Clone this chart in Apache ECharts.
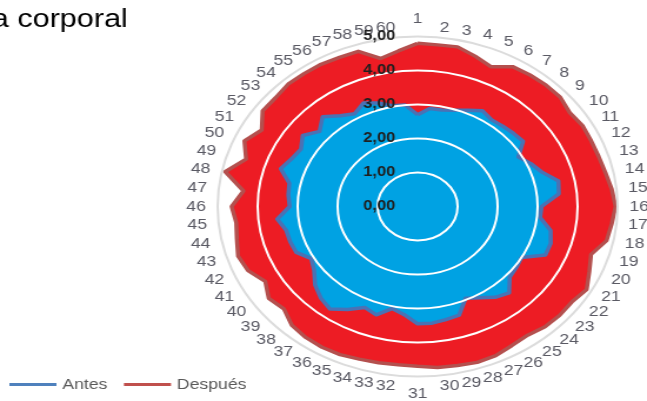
<!DOCTYPE html>
<html><head><meta charset="utf-8">
<script src="https://cdn.jsdelivr.net/npm/echarts@6/dist/echarts.min.js"></script>
<style>
html,body{margin:0;padding:0;overflow:hidden;background:#fff;width:647px;height:401px}
#chart{width:550px;height:401px;transform:scaleX(1.17636);transform-origin:0 0}
</style></head><body><div id="chart"></div>
<script>
const titleText = 'a corporal';
const categories = ['1','2','3','4','5','6','7','8','9','10','11','12','13','14','15','16','17','18','19','20',
  '21','22','23','24','25','26','27','28','29','30','31','32','33','34','35','36','37','38','39','40',
  '41','42','43','44','45','46','47','48','49','50','51','52','53','54','55','56','57','58','59','60'];
const antes = [2.70,2.90,2.90,2.98,3.10,3.25,3.15,3.18,3.22,3.26,2.91,3.10,3.27,3.60,3.55,3.10,3.08,3.40,3.50,3.50,
  3.00,3.05,3.10,3.42,3.30,3.10,2.95,3.36,3.40,3.45,3.45,3.20,3.07,3.35,3.25,3.50,3.73,3.62,3.45,3.20,
  3.07,3.32,3.35,3.36,3.53,3.20,3.25,3.28,3.60,3.45,3.37,3.55,3.30,3.55,3.30,3.15,3.33,3.20,3.03,3.00];
const despues = [4.80,4.78,4.80,4.65,4.50,4.75,4.78,4.80,4.80,4.70,4.76,4.75,4.76,4.80,4.88,4.95,4.88,4.83,4.56,4.70,
  4.88,4.77,4.78,4.76,4.68,4.72,4.80,4.82,4.78,4.76,4.70,4.68,4.70,4.72,4.77,4.78,4.76,4.70,4.50,4.60,
  4.40,4.64,4.72,4.62,4.56,4.65,4.38,4.92,4.51,4.74,4.50,4.79,4.78,4.84,4.83,4.83,4.80,4.80,4.45,4.60];
const seriesNames = ['Antes', 'Después'];
const axisMin = 0, axisMax = 5, axisSplits = 5;

// ECharts radar runs counter-clockwise; the reference runs clockwise, so keep
// item 1 at the top and walk the rest in reverse order.
const order = [0].concat(categories.map((_, i) => i).slice(1).reverse());
const pick = arr => order.map(i => arr[i]);

const chart = echarts.init(document.getElementById('chart'), null, {renderer: 'canvas'});
const indicators = order.map((idx, k) => {
  const ind = {name: categories[idx], min: axisMin, max: axisMax};
  if (k === 0) {
    ind.axisLabel = {
      show: true, margin: 19, color: '#1f1f1f', fontSize: 14, fontWeight: 'bold',
      fontFamily: 'Liberation Sans',
      formatter: v => Number(v).toFixed(2).replace('.', ',')
    };
  }
  return ind;
});
chart.setOption({
  animation: false,
  backgroundColor: '#fff',
  title: {
    text: titleText, left: -12, top: 2,
    textStyle: {fontFamily: 'Liberation Sans', fontSize: 26, fontWeight: 'normal', color: '#000'}
  },
  legend: {
    left: 3, top: 372, icon: 'rect', itemWidth: 40, itemHeight: 3, itemGap: 14,
    textStyle: {color: '#595959', fontSize: 15, fontFamily: 'Liberation Sans'},
    data: [
      {name: seriesNames[0], itemStyle: {color: '#4f81bd'}},
      {name: seriesNames[1], itemStyle: {color: '#c0504d'}}
    ]
  },
  radar: {
    center: [355, 206.5], radius: 170, startAngle: 90, splitNumber: axisSplits,
    shape: 'circle', z: 3, nameGap: 10,
    indicator: indicators,
    axisName: {color: '#5a5a64', fontSize: 15, fontFamily: 'Liberation Sans'},
    axisLine: {show: false}, axisTick: {show: false},
    axisLabel: {show: false},
    splitArea: {show: false},
    splitLine: {lineStyle: {color: ['#fff','#fff','#fff','#fff','#fff','#dcdcdc'], width: 2}}
  },
  series: [{
    type: 'radar', z: 1, symbol: 'none', silent: true,
    data: [
      {name: seriesNames[1], value: pick(despues),
        lineStyle: {opacity: 0}, areaStyle: {color: '#ed1c24', opacity: 1},
        itemStyle: {color: '#c0504d'}},
      {name: seriesNames[0], value: pick(antes),
        lineStyle: {opacity: 0}, areaStyle: {color: '#00a2e3', opacity: 1},
        itemStyle: {color: '#4f81bd'}}
    ]
  }, {
    type: 'radar', z: 2, symbol: 'none',
    data: [
      {name: seriesNames[1], value: pick(despues),
        lineStyle: {color: '#b4504e', width: 3.5, opacity: 1},
        itemStyle: {color: '#c0504d'}},
      {name: seriesNames[0], value: pick(antes),
        lineStyle: {color: '#4a72b4', width: 3.5, opacity: 1},
        itemStyle: {color: '#4a72b4'}}
    ]
  }]
});
</script></body></html>
